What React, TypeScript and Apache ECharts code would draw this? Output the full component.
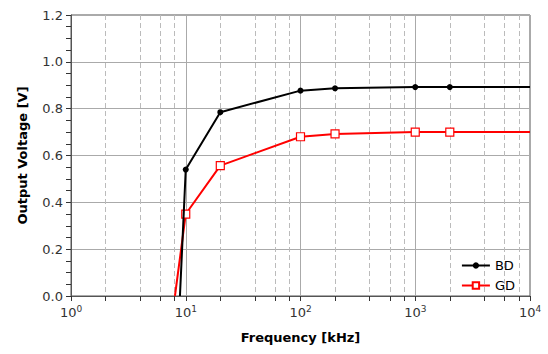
import React, { useEffect, useRef } from "react";
import * as echarts from "echarts";

const freqBD = [8.9, 10, 20, 100, 200, 1000, 2000, 10000];
const voltBD = [0, 0.54, 0.785, 0.877, 0.887, 0.892, 0.892, 0.892];
const markedBD = [false, true, true, true, true, true, true, false];

const freqGD = [8.05, 10, 20, 100, 200, 1000, 2000, 10000];
const voltGD = [0, 0.35, 0.557, 0.68, 0.692, 0.7, 0.7, 0.7];
const markedGD = [false, true, true, true, true, true, true, false];

const minorFreqs = [2, 4, 6, 8, 20, 40, 60, 80, 200, 400, 600, 800, 2000, 4000, 6000, 8000];
const yTicks = [0, 0.2, 0.4, 0.6, 0.8, 1.0, 1.2];

const FONT = "DejaVu Sans";

function build(freq: number[], volt: number[], marked: boolean[]) {
  return freq.map((f, i) =>
    marked[i] ? { value: [f, volt[i]] } : { value: [f, volt[i]], symbol: "none" }
  );
}

export default function App() {
  const ref = useRef<HTMLDivElement>(null);
  useEffect(() => {
    const chart = echarts.init(ref.current!, null, { renderer: "svg" });
    chart.setOption({
      animation: false,
      textStyle: { fontFamily: FONT },
      grid: {
        left: 71,
        right: 18,
        top: 15,
        bottom: 58,
        show: true,
        borderColor: "#555",
        borderWidth: 1,
        backgroundColor: "transparent",
      },
      legend: {
        orient: "vertical",
        right: 28,
        bottom: 57,
        itemGap: 7,
        itemWidth: 28,
        itemHeight: 8,
        textStyle: { fontFamily: FONT, fontSize: 13, color: "#000" },
        data: ["BD", "GD"],
      },
      xAxis: [
        {
          type: "log",
          logBase: 10,
          min: 1,
          max: 10000,
          name: "Frequency [kHz]",
          nameLocation: "middle",
          nameGap: 35,
          nameTextStyle: { fontFamily: FONT, fontSize: 13, fontWeight: "bold", color: "#000" },
          axisLine: { show: true, lineStyle: { color: "#555", width: 1 } },
          axisTick: { show: true, length: 5, lineStyle: { color: "#333" } },
          splitLine: { show: true, lineStyle: { color: "#aaa", width: 1 } },
          axisLabel: {
            margin: 8,
            formatter: (v: number) => `{b|10}{s|${Math.round(Math.log10(v))}}`,
            rich: {
              b: { fontFamily: FONT, fontSize: 13, color: "#333" },
              s: { fontFamily: FONT, fontSize: 9, color: "#333", verticalAlign: "top", padding: [0, 0, 7, 0] },
            },
          },
        },
        {
          type: "log",
          logBase: 10,
          min: 1,
          max: 10000,
          position: "bottom",
          axisLine: { show: false },
          axisLabel: { show: false },
          axisTick: { show: true, length: 5, customValues: minorFreqs, lineStyle: { color: "#333" } },
          splitLine: { show: true, lineStyle: { color: "#bbb", type: [5, 3], width: 1 } },
        },
      ],
      yAxis: {
        type: "value",
        min: 0,
        max: 1.2,
        interval: 0.2,
        name: "Output Voltage [V]",
        nameLocation: "middle",
        nameGap: 42,
        nameTextStyle: { fontFamily: FONT, fontSize: 13, fontWeight: "bold", color: "#000" },
        axisLine: { show: true, lineStyle: { color: "#555", width: 1 } },
        axisTick: { show: true, length: 5, lineStyle: { color: "#333" } },
        minorTick: { show: true, splitNumber: 4, length: 5, lineStyle: { color: "#333" } },
        splitLine: { show: true, lineStyle: { color: "#aaa", width: 1 } },
        axisLabel: {
          fontFamily: FONT,
          fontSize: 13,
          color: "#333",
          margin: 8,
          formatter: (v: number) => (yTicks.includes(Math.round(v * 10) / 10) ? v.toFixed(1) : ""),
        },
      },
      series: [
        {
          name: "BD",
          type: "line",
          xAxisIndex: 0,
          data: build(freqBD, voltBD, markedBD),
          symbol: "circle",
          symbolSize: 6,
          showAllSymbol: true,
          lineStyle: { color: "#000", width: 2 },
          itemStyle: { color: "#000" },
          z: 5,
        },
        {
          name: "GD",
          type: "line",
          xAxisIndex: 0,
          data: build(freqGD, voltGD, markedGD),
          symbol: "rect",
          symbolSize: 8,
          showAllSymbol: true,
          lineStyle: { color: "#ff0000", width: 2 },
          itemStyle: { color: "#fff", borderColor: "#ff0000", borderWidth: 1.2 },
          z: 4,
        },
      ],
    });
    return () => chart.dispose();
  }, []);
  return <div ref={ref} style={{ width: 548, height: 354, position: "absolute", left: 0, top: 0 }} />;
}
